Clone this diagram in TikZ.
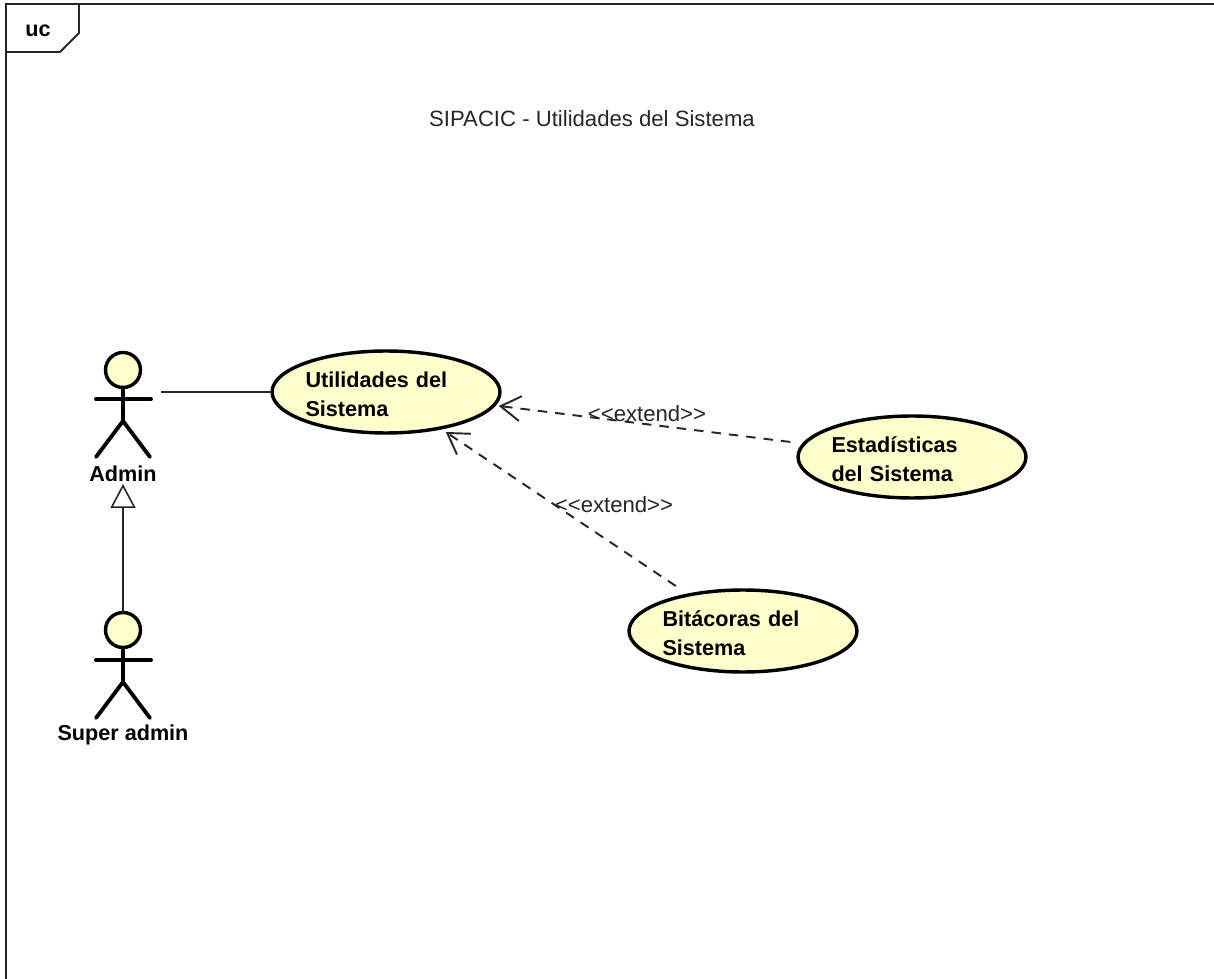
\documentclass[tikz,border=0pt]{standalone}
\usepackage{fontspec}
\setmainfont{Liberation Sans}
\usetikzlibrary{arrows.meta,shapes.geometric}
\definecolor{ucfill}{HTML}{FFFFCC}
\tikzset{
  usecase/.style={draw=black,fill=ucfill,ellipse,line width=1.95pt,inner sep=0pt,outer sep=0pt,minimum width=4.56cm,minimum height=1.64cm,text width=3.22cm,align=left,font=\fontsize{12.3}{16.5}\selectfont\bfseries,execute at begin node={\rule{0pt}{11.2pt}}},
  head/.style={draw=black,fill=ucfill,circle,line width=1.95pt,inner sep=0pt,outer sep=0pt,minimum size=0.7cm},
  limbs/.style={line width=2.2pt,line cap=round},
  actorname/.style={inner sep=0pt,font=\fontsize{12.3}{15}\selectfont\bfseries},
  extendlabel/.style={inner sep=0pt,text=black!85,font=\fontsize{12.6}{15}\selectfont},
  extendline/.style={line width=1.1pt,black!85,dash pattern=on 0.19cm off 0.16cm,-{Straight Barb[length=0.4cm,width=0.5cm,line width=1.1pt]}},
}
\begin{document}
\begin{tikzpicture}[x=0.02cm,y=-0.02cm]
\useasboundingbox (0,0) rectangle (1214,979);
%Frame
\draw[line width=1.1pt,black!85] (6,979) -- (6,4) -- (1214,4);
\draw[line width=1.1pt,black!85] (79,4) -- (79,33) -- (60,52) -- (6,52);
\node[actorname] (uc) at (38,31) {uc};
\node[extendlabel] (title) at (592,119) {SIPACIC - Utilidades del Sistema};
%Use cases
\node[usecase] (util) at (386,392) {Utilidades del\\Sistema};
\node[usecase] (estad) at (912,457) {Estadísticas\\del Sistema};
\node[usecase] (bitac) at (743,631) {Bitácoras del\\Sistema};
%Actors
\node[head] (admin) at (123,370) {};
\draw[limbs] (admin.south) -- (123,421) -- ++(-27,36) ++(27,-36) -- ++(27,36);
\draw[limbs] (96,399) -- (151,399);
\node[actorname] (adminname) at (123,474) {Admin};
\node[head] (super) at (123,630) {};
\draw[limbs] (super.south) -- (123,682) -- ++(-27,36) ++(27,-36) -- ++(27,36);
\draw[limbs] (96,660) -- (151,660);
\node[actorname] (supername) at (123,735) {Super admin};
%Connectors
\coordinate (adminside) at (161,392);
\coordinate (admintip) at (123,484);
\draw[line width=1.1pt,black!85] (adminside) -- (util);
\draw[line width=1.1pt,black!85,-{Triangle[open,fill=white,length=0.48cm,width=0.5cm,line width=0.9pt]}] (super.north) -- (admintip);
\draw[extendline,shorten <=0.28cm,shorten >=0.1cm] (estad) -- (util);
\draw[extendline,shorten <=0.32cm,shorten >=0.14cm] (bitac) -- (util);
\node[extendlabel] (ext1) at (647,414) {<{}<{}extend>{}>};
\node[extendlabel] (ext2) at (614,505) {<{}<{}extend>{}>};
\end{tikzpicture}
\end{document}
